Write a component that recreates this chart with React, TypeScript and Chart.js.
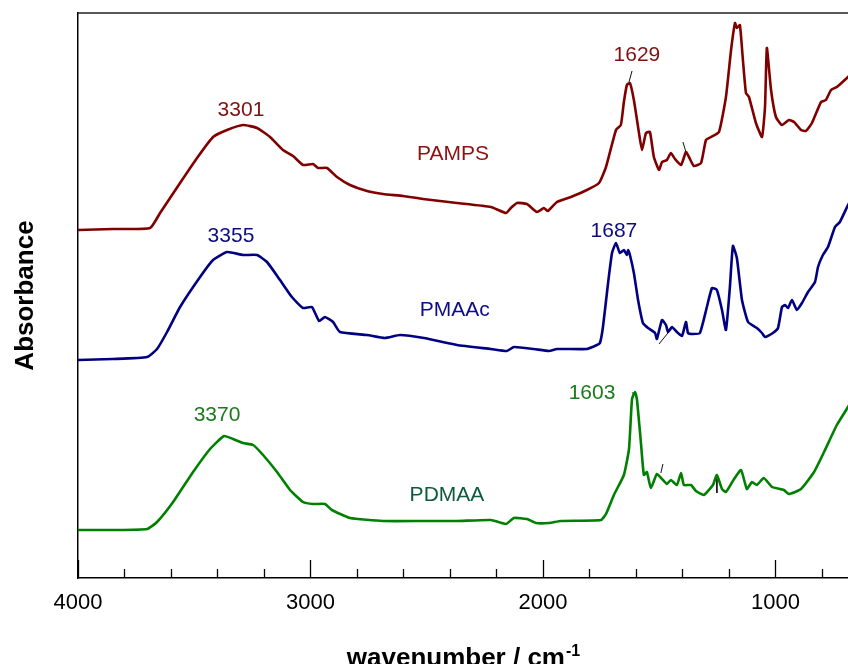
import React, { useEffect, useRef } from "react";
import { Chart, registerables } from "chart.js";

Chart.register(...registerables);

// ---- axis ranges / ticks ----
const X_MIN = 688;
const X_MAX = 4000;
const Y_MIN = 0;
const Y_MAX = 5.65;
const MAJOR_TICKS = [1000, 2000, 3000, 4000];
const MINOR_TICKS = [800, 1200, 1400, 1600, 1800, 2200, 2400, 2600, 2800, 3200, 3400, 3600, 3800];

const X_TITLE = "wavenumber / cm";
const X_TITLE_SUP = "-1";
const Y_TITLE = "Absorbance";

// ---- spectra: [wavenumber (cm-1), absorbance (offset, a.u.)] ----
const PAMPS: [number, number][] = [
  [4000, 3.48], [3850, 3.49], [3690, 3.50], [3647, 3.65], [3561, 3.95], [3488, 4.2], [3419, 4.41],
  [3359, 4.48], [3290, 4.53], [3230, 4.5], [3174, 4.41], [3118, 4.28], [3075, 4.22], [3032, 4.13],
  [2989, 4.14], [2968, 4.1], [2929, 4.1], [2886, 4.01], [2830, 3.93], [2757, 3.87], [2688, 3.84],
  [2602, 3.82], [2516, 3.79], [2370, 3.75], [2224, 3.71], [2159, 3.65], [2138, 3.7], [2112, 3.75],
  [2069, 3.74], [2026, 3.66], [1996, 3.7], [1979, 3.67], [1940, 3.76], [1880, 3.81], [1811, 3.88],
  [1759, 3.95], [1729, 4.11], [1686, 4.48], [1665, 4.53], [1652, 4.76], [1639, 4.93], [1626, 4.95],
  [1609, 4.78], [1587, 4.45], [1574, 4.28], [1557, 4.45], [1540, 4.46], [1523, 4.21], [1501, 4.08],
  [1488, 4.16], [1467, 4.18], [1450, 4.25], [1432, 4.19], [1406, 4.13], [1385, 4.26], [1372, 4.21],
  [1351, 4.12], [1320, 4.15], [1299, 4.38], [1277, 4.41], [1243, 4.46], [1213, 4.81], [1191, 5.28],
  [1174, 5.55], [1166, 5.5], [1153, 5.53], [1140, 5.18], [1127, 4.85], [1114, 4.81], [1084, 4.55],
  [1058, 4.41], [1045, 4.71], [1037, 5.3], [1019, 4.88], [998, 4.61], [972, 4.53], [942, 4.58],
  [920, 4.56], [890, 4.48], [869, 4.47], [843, 4.55], [804, 4.76], [783, 4.78], [761, 4.88],
  [736, 4.91], [688, 5.01], [670, 5.05],
];

const PMAAC: [number, number][] = [
  [4000, 2.18], [3850, 2.19], [3703, 2.21], [3660, 2.29], [3617, 2.46], [3561, 2.71], [3475, 3.01],
  [3419, 3.18], [3359, 3.26], [3290, 3.23], [3230, 3.23], [3187, 3.16], [3131, 2.98], [3080, 2.81],
  [3032, 2.7], [2994, 2.71], [2963, 2.57], [2938, 2.61], [2903, 2.56], [2873, 2.46], [2757, 2.43],
  [2680, 2.4], [2615, 2.43], [2512, 2.4], [2370, 2.33], [2224, 2.29], [2155, 2.27], [2125, 2.31],
  [2039, 2.29], [1974, 2.27], [1940, 2.29], [1811, 2.29], [1768, 2.33], [1755, 2.35], [1742, 2.51],
  [1720, 2.95], [1703, 3.25], [1686, 3.35], [1669, 3.25], [1652, 3.28], [1639, 3.23], [1634, 3.28],
  [1626, 3.23], [1609, 3.05], [1591, 2.78], [1570, 2.55], [1548, 2.5], [1518, 2.45], [1510, 2.39],
  [1488, 2.58], [1471, 2.53], [1462, 2.46], [1445, 2.51], [1424, 2.46], [1402, 2.42], [1385, 2.56],
  [1376, 2.45], [1355, 2.44], [1325, 2.45], [1295, 2.71], [1273, 2.9], [1252, 2.88], [1230, 2.68],
  [1213, 2.48], [1196, 2.91], [1183, 3.32], [1166, 3.2], [1144, 2.78], [1118, 2.56], [1080, 2.5],
  [1058, 2.45], [1045, 2.41], [1011, 2.45], [989, 2.5], [972, 2.71], [959, 2.73], [946, 2.7],
  [929, 2.78], [908, 2.68], [886, 2.75], [860, 2.86], [830, 2.96], [817, 3.11], [796, 3.23],
  [774, 3.31], [744, 3.51], [723, 3.56], [688, 3.73], [670, 3.8],
];

const PDMAA: [number, number][] = [
  [4000, 0.48], [3850, 0.48], [3703, 0.49], [3660, 0.56], [3591, 0.76], [3505, 1.06], [3432, 1.29],
  [3372, 1.42], [3333, 1.39], [3290, 1.35], [3247, 1.33], [3204, 1.23], [3144, 1.06], [3088, 0.88],
  [3032, 0.76], [2989, 0.74], [2938, 0.74], [2908, 0.68], [2830, 0.6], [2688, 0.57], [2512, 0.57],
  [2370, 0.57], [2224, 0.58], [2159, 0.54], [2125, 0.6], [2069, 0.59], [2030, 0.55], [1974, 0.55],
  [1923, 0.57], [1751, 0.58], [1729, 0.64], [1695, 0.83], [1652, 1.03], [1630, 1.29], [1617, 1.79],
  [1604, 1.86], [1596, 1.79], [1579, 1.36], [1566, 1.03], [1553, 1.06], [1536, 0.9], [1510, 1.04],
  [1488, 0.99], [1467, 0.94], [1450, 0.98], [1424, 0.93], [1406, 1.05], [1394, 0.93], [1363, 0.93],
  [1342, 0.87], [1308, 0.83], [1269, 0.93], [1252, 1.03], [1230, 0.89], [1213, 0.86], [1178, 0.99],
  [1148, 1.08], [1123, 0.89], [1101, 0.96], [1080, 0.93], [1050, 1.0], [1015, 0.91], [964, 0.88],
  [942, 0.84], [890, 0.89], [834, 1.06], [791, 1.26], [736, 1.53], [688, 1.71], [670, 1.78],
];

// small peak marker strokes
const MARKERS: [number, number][][] = [
  [[1630, 4.96], [1617, 5.07]],
  [[1398, 4.36], [1385, 4.26]],
  [[1501, 2.34], [1445, 2.5]],
  [[1617, 1.85], [1600, 1.85]],
  [[1493, 1.05], [1484, 1.14]],
  [[1252, 1.01], [1252, 0.85]],
];

// ---- text annotations ----
const LABEL_TEXTS = ["3301", "PAMPS", "1629", "3355", "PMAAc", "1687", "3370", "PDMAA", "1603"];
const LABEL_X = [3299, 2387, 1596, 3342, 2379, 1695, 3402, 2413, 1789];
const LABEL_Y = [4.68, 4.24, 5.23, 3.42, 2.68, 3.47, 1.63, 0.83, 1.85];
const LABEL_COLORS = ["#7f1010", "#8b1212", "#7f1010", "#0c0c80", "#0c0c8a", "#0c0c80", "#1b7a1b", "#0e5a3c", "#1b7a1b"];

const FONT = "'Liberation Sans', Arial, Helvetica, sans-serif";

export default function App() {
  const ref = useRef<HTMLCanvasElement | null>(null);

  useEffect(() => {
    const canvas = ref.current;
    if (!canvas) return;

    const toXY = (arr: [number, number][]) => arr.map(([x, y]) => ({ x, y }));

    const decor = {
      id: "decor",
      afterDraw(chart: any) {
        const { ctx, chartArea, scales } = chart;
        const xs = scales.x;
        const ys = scales.y;
        ctx.save();
        // top frame line
        ctx.strokeStyle = "#222";
        ctx.lineWidth = 1.5;
        ctx.beginPath();
        ctx.moveTo(chartArea.left, chartArea.top);
        ctx.lineTo(chartArea.right, chartArea.top);
        ctx.stroke();
        // inward ticks
        ctx.strokeStyle = "#000";
        ctx.lineWidth = 1.3;
        const b = chartArea.bottom;
        MAJOR_TICKS.forEach((v) => {
          const px = Math.round(xs.getPixelForValue(v)) + 0.5;
          ctx.beginPath();
          ctx.moveTo(px, b);
          ctx.lineTo(px, b - 18);
          ctx.stroke();
        });
        MINOR_TICKS.forEach((v) => {
          const px = Math.round(xs.getPixelForValue(v)) + 0.5;
          ctx.beginPath();
          ctx.moveTo(px, b);
          ctx.lineTo(px, b - 9);
          ctx.stroke();
        });
        // annotation labels
        ctx.font = `21px ${FONT}`;
        ctx.textAlign = "center";
        ctx.textBaseline = "middle";
        LABEL_TEXTS.forEach((t, i) => {
          ctx.fillStyle = LABEL_COLORS[i];
          ctx.fillText(t, xs.getPixelForValue(LABEL_X[i]), ys.getPixelForValue(LABEL_Y[i]));
        });
        // x title with superscript
        ctx.fillStyle = "#000";
        ctx.textBaseline = "alphabetic";
        ctx.textAlign = "left";
        ctx.font = `bold 26px ${FONT}`;
        const w1 = ctx.measureText(X_TITLE).width;
        ctx.font = `bold 16px ${FONT}`;
        const w2 = ctx.measureText(X_TITLE_SUP).width;
        const cx = (chartArea.left + chartArea.right) / 2;
        const x0 = cx - (w1 + w2) / 2;
        ctx.font = `bold 26px ${FONT}`;
        ctx.fillText(X_TITLE, x0, 666);
        ctx.font = `bold 16px ${FONT}`;
        ctx.fillText(X_TITLE_SUP, x0 + w1 + 1, 656);
        // y title
        ctx.save();
        ctx.translate(33, (chartArea.top + chartArea.bottom) / 2);
        ctx.rotate(-Math.PI / 2);
        ctx.textAlign = "center";
        ctx.font = `bold 26px ${FONT}`;
        ctx.fillText(Y_TITLE, 0, 0);
        ctx.restore();
        ctx.restore();
      },
    };

    const chart = new Chart(canvas, {
      type: "line",
      data: {
        datasets: [
          { label: "PAMPS", data: toXY(PAMPS), borderColor: "#800000", borderWidth: 2.6, pointRadius: 0, tension: 0.15, fill: false },
          { label: "PMAAc", data: toXY(PMAAC), borderColor: "#000080", borderWidth: 2.6, pointRadius: 0, tension: 0.15, fill: false },
          { label: "PDMAA", data: toXY(PDMAA), borderColor: "#008000", borderWidth: 2.6, pointRadius: 0, tension: 0.15, fill: false },
          ...MARKERS.map((m, i) => ({
            label: "m" + i,
            data: toXY(m),
            borderColor: "#111",
            borderWidth: 1,
            pointRadius: 0,
            tension: 0,
            fill: false,
          })),
        ],
      },
      options: {
        responsive: false,
        animation: false,
        devicePixelRatio: 1,
        layout: { padding: { top: 13, left: 0, right: 0, bottom: 0 } },
        plugins: { legend: { display: false }, tooltip: { enabled: false }, title: { display: false } },
        scales: {
          x: {
            type: "linear",
            reverse: true,
            min: X_MIN,
            max: X_MAX,
            afterBuildTicks: (s: any) => {
              s.ticks = MAJOR_TICKS.map((v) => ({ value: v }));
            },
            afterFit: (s: any) => {
              s.height = 86;
            },
            ticks: {
              autoSkip: false,
              maxRotation: 0,
              padding: 12,
              color: "#000",
              font: { family: FONT, size: 22 },
              callback: (v: any) => String(v),
            },
            grid: { display: false, drawTicks: false },
            border: { display: true, color: "#000", width: 1.5 },
          },
          y: {
            type: "linear",
            min: Y_MIN,
            max: Y_MAX,
            ticks: { display: false },
            afterFit: (s: any) => {
              s.width = 78;
            },
            grid: { display: false, drawTicks: false },
            border: { display: true, color: "#000", width: 1.5 },
          },
        },
      },
      plugins: [decor],
    });

    return () => chart.destroy();
  }, []);

  return (
    <div style={{ position: "absolute", left: 0, top: 0, width: 848, height: 664, background: "#fff" }}>
      <canvas ref={ref} width={848} height={664} style={{ display: "block", width: 848, height: 664 }} />
    </div>
  );
}
